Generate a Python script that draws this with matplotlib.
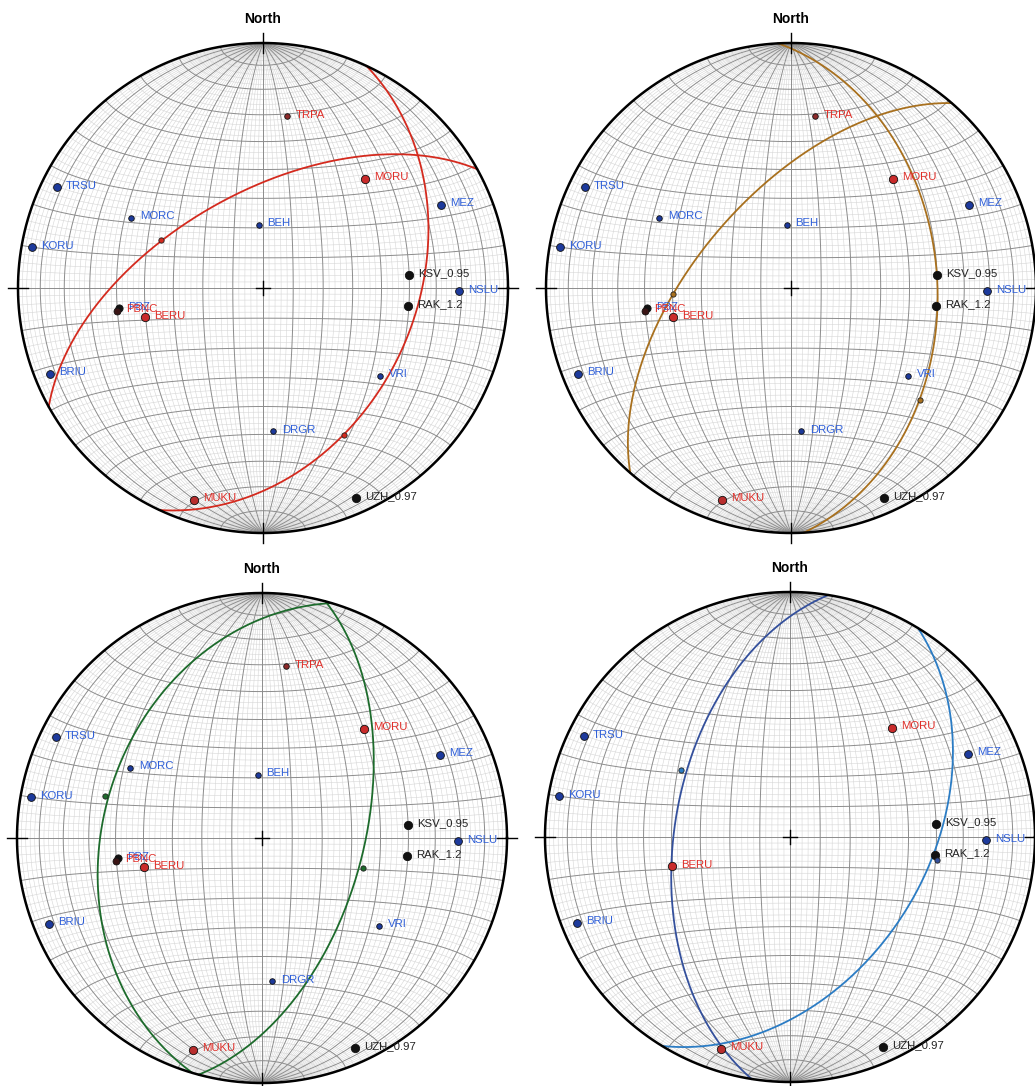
import numpy as np
import matplotlib
matplotlib.use("Agg")
import matplotlib.pyplot as plt
from matplotlib.collections import LineCollection

plt.rcParams['font.family'] = ['Liberation Sans', 'DejaVu Sans']

W, H = 1035, 1086
R = 245.0

# ---------------- data ----------------
station_names = ["TRPA", "MORU", "MEZ", "TRSU", "MORC", "BEH", "KORU", "KSV_0.95",
                 "NSLU", "RAK_1.2", "PBZ", "PBNC", "BERU", "BRIU", "VRI", "DRGR",
                 "MUKU", "UZH_0.97"]
station_trend = [8, 43, 65, 296, 298, 356, 280, 85, 91, 97, 262, 261, 256, 248, 127, 176, 198, 156]
station_plunge = [30, 39, 21, 7, 39, 69, 5, 40, 21, 40, 40.5, 39.5, 49, 7, 40, 41, 10, 7]
station_marker_color = ["#8e2b2b", "#c92b2b", "#1d3a9c", "#1d3a9c", "#1d3a9c", "#1d3a9c",
                        "#1d3a9c", "#111111", "#1d3a9c", "#111111", "#111111", "#3a1414",
                        "#c92b2b", "#1d3a9c", "#1d3a9c", "#1d3a9c", "#b82e2e", "#111111"]
station_label_color = ["#e0302a", "#e0302a", "#2f5fd8", "#2f5fd8", "#2f5fd8", "#2f5fd8",
                       "#2f5fd8", "#222222", "#2f5fd8", "#222222", "#2f5fd8", "#e0302a",
                       "#e0302a", "#2f5fd8", "#2f5fd8", "#2f5fd8", "#e0302a", "#222222"]
station_size = [4.0, 6.0, 5.6, 5.6, 4.0, 4.0, 5.6, 6.0, 5.6, 6.0, 5.2, 5.0, 6.0, 5.6, 4.0, 4.0, 6.0, 6.0]

# subset of stations shown in the lower-right net
subset_br = ["TRSU", "KORU", "BRIU", "MORU", "MEZ", "KSV_0.95", "NSLU", "RAK_1.2",
             "BERU", "MUKU", "UZH_0.97"]

# nodal planes (strike, dip; right-hand rule) for each net
tl_strike, tl_dip = [25, 241], [38, 58]
tr_strike, tr_dip = [357, 221], [40, 59]
bl_strike, bl_dip = [15, 196.5], [56, 35.4]
br_strike, br_dip = [31.5, 189], [43.4, 51]

tl_colors = ["#d42a1e", "#d42a1e"]
tr_colors = ["#a8701e", "#a8701e"]
bl_colors = ["#1d6b2c", "#1d6b2c"]
br_colors = ["#2b7cc4", "#34509c"]

panel_centers = [(263, 288), (791, 288), (262, 838), (790, 837)]


# ---------------- projection helpers ----------------
def vec(tr, pl):
    tr, pl = np.radians(tr), np.radians(pl)
    return np.cos(pl) * np.sin(tr), np.cos(pl) * np.cos(tr), np.sin(pl)


def proj(E, N, D):
    f = 1.0 / np.sqrt(1.0 + D)
    return E * f, N * f


def plane_curve(strike, dip):
    s = np.radians(strike)
    d = np.radians(dip)
    dd = s + np.pi / 2
    t = np.linspace(0, np.pi, 400)
    sv = np.array([np.sin(s), np.cos(s), 0.0])
    dv = np.array([np.cos(d) * np.sin(dd), np.cos(d) * np.cos(dd), np.sin(d)])
    E = np.cos(t) * sv[0] + np.sin(t) * dv[0]
    N = np.cos(t) * sv[1] + np.sin(t) * dv[1]
    D = np.cos(t) * sv[2] + np.sin(t) * dv[2]
    return proj(E, N, D)


def pole(strike, dip):
    return vec(strike + 90 + 180, 90 - dip)


def draw_grid(ax):
    lat = np.radians(np.linspace(-90, 90, 361))
    lon = np.radians(np.linspace(-90, 90, 361))
    minor, major = [], []
    for k in range(-88, 89, 2):
        lam = np.radians(k)
        E = np.cos(lat) * np.sin(lam)
        N = np.sin(lat)
        D = np.cos(lat) * np.cos(lam)
        x, y = proj(E, N, D)
        (major if k % 10 == 0 else minor).append(np.column_stack([x, y]))
        phi = np.radians(k)
        E = np.cos(phi) * np.sin(lon)
        N = np.sin(phi) * np.ones_like(lon)
        D = np.cos(phi) * np.cos(lon)
        x, y = proj(E, N, D)
        (major if k % 10 == 0 else minor).append(np.column_stack([x, y]))
    ax.add_collection(LineCollection(minor, colors="#d6d6d6", linewidths=0.4, zorder=1))
    ax.add_collection(LineCollection(major, colors="#8c8c8c", linewidths=0.7, zorder=2))


fig = plt.figure(figsize=(W / 100, H / 100), dpi=100)
fig.patch.set_facecolor("white")

panel_planes = [(tl_strike, tl_dip, tl_colors), (tr_strike, tr_dip, tr_colors),
                (bl_strike, bl_dip, bl_colors), (br_strike, br_dip, br_colors)]

for i, ((cx, cy), (strikes, dips, cols)) in enumerate(zip(panel_centers, panel_planes)):
    ax = fig.add_axes([(cx - R) / W, (H - cy - R) / H, 2 * R / W, 2 * R / H])
    ax.set_xlim(-1, 1)
    ax.set_ylim(-1, 1)
    ax.set_aspect("equal")
    ax.axis("off")
    px = 1.0 / R

    draw_grid(ax)
    th = np.linspace(0, 2 * np.pi, 720)
    ax.plot(np.cos(th), np.sin(th), color="black", lw=1.8, zorder=5, clip_on=False)

    # ticks at N, E, S, W and centre cross
    tk = 10 * px
    kw = dict(color="black", lw=1.0, zorder=6, clip_on=False)
    ax.plot([0, 0], [1 - tk, 1 + tk], **kw)
    ax.plot([0, 0], [-1 - tk, -1 + tk], **kw)
    ax.plot([1 - tk, 1 + tk], [0, 0], **kw)
    ax.plot([-1 - tk, -1 + tk], [0, 0], **kw)
    c = 7 * px
    ax.plot([-c, c], [0, 0], **kw)
    ax.plot([0, 0], [-c, c], **kw)
    ax.text(0, 1 + 24 * px, "North", ha="center", va="center", fontsize=10,
            fontweight="bold", color="black", zorder=7, clip_on=False)

    # nodal planes
    for s, d, col in zip(strikes, dips, cols):
        x, y = plane_curve(s, d)
        ax.plot(x, y, color=col, lw=1.3, zorder=4, clip_on=False)

    # stations
    for name, tr, pl, mc, lc, ms in zip(station_names, station_trend, station_plunge,
                                         station_marker_color, station_label_color, station_size):
        if i == 3 and name not in subset_br:
            continue
        x, y = proj(*vec(tr, pl))
        ax.plot(x, y, "o", ms=ms, mfc=mc, mec="#101010", mew=0.6, zorder=8, clip_on=False)
        ax.annotate(name, (x, y), xytext=(6.5, 1.2), textcoords="offset points",
                    ha="left", va="center", fontsize=8.2, color=lc, zorder=9,
                    annotation_clip=False)

    # poles of the nodal planes
    for s, d, col in zip(strikes, dips, cols):
        x, y = proj(*pole(s, d))
        ax.plot(x, y, "o", ms=3.8, mfc=col, mec="#202020", mew=0.6, zorder=8.5, clip_on=False)

fig.savefig("out.png", dpi=100, facecolor="white")
